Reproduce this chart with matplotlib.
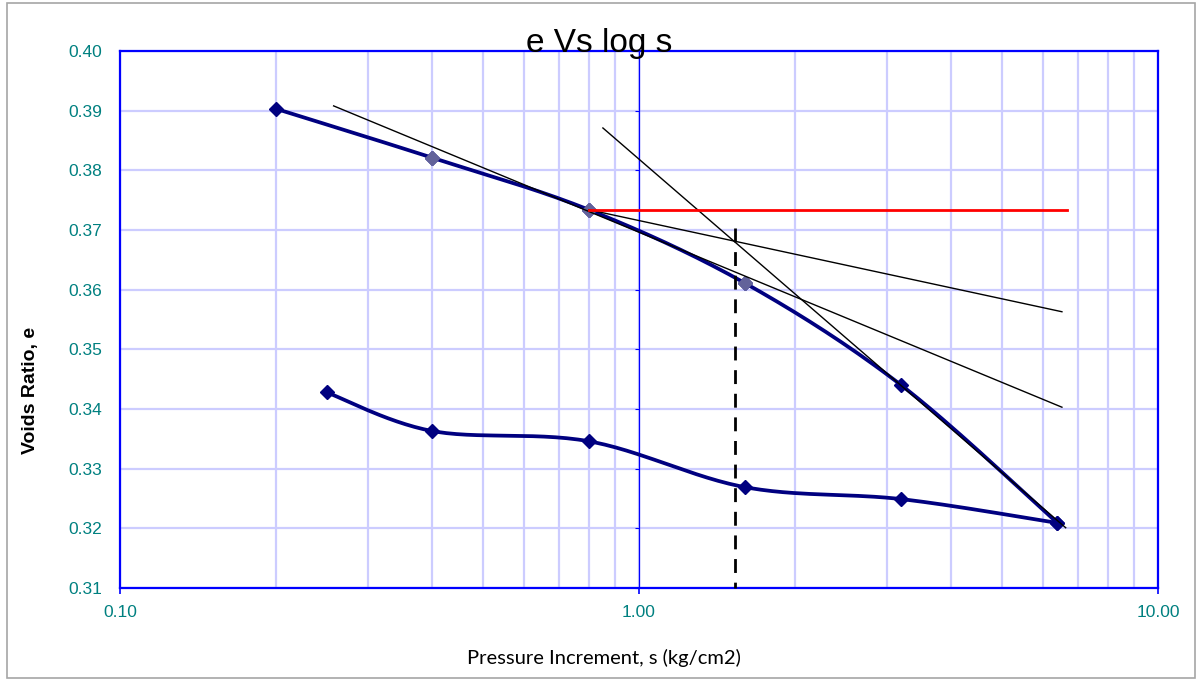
import numpy as np
import matplotlib
matplotlib.use("Agg")
import matplotlib.pyplot as plt
from matplotlib.patches import Rectangle
from matplotlib.ticker import FixedLocator, NullFormatter, FuncFormatter

# loading branch
load_s = [0.2, 0.4, 0.8, 1.6, 3.2, 6.4]
load_e = [0.3903, 0.3821, 0.3734, 0.3611, 0.3440, 0.3209]
# points highlighted on the loading branch
pick_s = [0.4, 0.8, 1.6]
pick_e = [0.3821, 0.3734, 0.3611]
# second curve
unload_s = [0.25, 0.4, 0.8, 1.6, 3.2, 6.4]
unload_e = [0.3428, 0.3363, 0.3346, 0.3269, 0.3249, 0.3209]

# construction lines (Casagrande)
tan_s, tan_e = [0.258, 6.53], [0.3908, 0.3403]
steep_s, steep_e = [0.852, 6.64], [0.3871, 0.3201]
bis_s, bis_e = [0.80, 6.53], [0.3734, 0.3563]
hor_s, hor_e = [0.80, 6.68], [0.3734, 0.3734]
pc_s, pc_e = [1.53, 1.53], [0.3703, 0.31]

y_ticks = [0.31, 0.32, 0.33, 0.34, 0.35, 0.36, 0.37, 0.38, 0.39, 0.40]

navy = "#000080"
teal = "#008080"
gridc = "#ccccff"

W, H = 1198, 681
fig = plt.figure(figsize=(W / 100, H / 100), dpi=100)
ax = fig.add_axes([120 / W, 1 - 588 / H, (1158 - 120) / W, (588 - 51) / H])
ax.set_xscale("log")
ax.set_xlim(0.1, 10)
ax.set_ylim(0.31, 0.40)


def smooth(xs, ys, n=30):
    # Catmull-Rom through the points, done in screen space so it follows the log axis
    pts = ax.transData.transform(np.column_stack([xs, ys]))
    p = np.vstack([pts[0], pts, pts[-1]])
    out = []
    for i in range(1, len(p) - 2):
        p0, p1, p2, p3 = p[i - 1], p[i], p[i + 1], p[i + 2]
        c1 = p1 + (p2 - p0) / 6
        c2 = p2 - (p3 - p1) / 6
        t = np.linspace(0, 1, n)[:, None]
        seg = ((1 - t) ** 3) * p1 + 3 * ((1 - t) ** 2) * t * c1 + 3 * (1 - t) * t ** 2 * c2 + t ** 3 * p2
        out.append(seg if i == 1 else seg[1:])
    out = np.vstack(out)
    d = ax.transData.inverted().transform(out)
    return d[:, 0], d[:, 1]


# grid
ax.xaxis.set_major_locator(FixedLocator([0.1, 1, 10]))
minors = [m * 10.0 ** k for k in (-1, 0) for m in range(2, 10)]
ax.xaxis.set_minor_locator(FixedLocator(minors))
ax.xaxis.set_minor_formatter(NullFormatter())
ax.xaxis.set_major_formatter(FuncFormatter(lambda v, p: f"{v:.2f}"))
ax.yaxis.set_major_locator(FixedLocator(y_ticks))
ax.yaxis.set_major_formatter(FuncFormatter(lambda v, p: f"{v:.2f}"))
ax.grid(True, which="both", color=gridc, lw=1.6, zorder=0)
ax.set_axisbelow(True)

# value axis crossing at 1.0
ax.axvline(1.0, color="#0000ff", lw=0.9, zorder=1)
ax.plot([1.0] * len(y_ticks), y_ticks, ls="none", marker=0, ms=3, mew=0.8,
        color="#0000ff", zorder=1, clip_on=False)

xs, ys = smooth(load_s, load_e)
ax.plot(xs, ys, color=navy, lw=2.7, zorder=3)
ax.plot(load_s, load_e, ls="none", marker="D", ms=7, color=navy, zorder=4)
ax.plot(pick_s, pick_e, ls="none", marker="D", ms=7, color="#62629a", zorder=5)

xs, ys = smooth(unload_s, unload_e)
ax.plot(xs, ys, color=navy, lw=2.7, zorder=3)
ax.plot(unload_s, unload_e, ls="none", marker="D", ms=7, color=navy, zorder=4)

ax.plot(tan_s, tan_e, color="black", lw=1.0, zorder=6)
ax.plot(steep_s, steep_e, color="black", lw=1.0, zorder=6)
ax.plot(bis_s, bis_e, color="black", lw=1.0, zorder=6)
ax.plot(hor_s, hor_e, color="#ff0000", lw=2.0, zorder=6)
ax.plot(pc_s, pc_e, color="black", lw=2.0, ls=(0, (5, 3.5)), zorder=6, clip_on=False)

for sp in ax.spines.values():
    sp.set_color("#0000ff")
    sp.set_linewidth(1.6)

ax.tick_params(axis="x", which="major", direction="out", length=4, width=1.2,
               color="#0000ff", labelcolor=teal, labelsize=12.5, pad=8)
ax.tick_params(axis="x", which="minor", length=0)
ax.tick_params(axis="y", length=0, labelcolor=teal, labelsize=12.5, pad=13)
for lab in ax.get_xticklabels() + ax.get_yticklabels():
    lab.set_family("Liberation Sans")

fig.text(599 / W, 1 - 52 / H, "e Vs log s", ha="center", va="baseline",
         fontsize=24, family="Liberation Sans", zorder=10)
fig.text(604 / W, 1 - 664 / H, "Pressure Increment, s (kg/cm2)", ha="center",
         va="baseline", fontsize=14.5, family="Lato")
fig.text(31 / W, 1 - 390 / H, "Voids Ratio, e", ha="center", va="center",
         rotation=90, fontsize=14, fontweight="bold", family="Liberation Sans")

fig.patches.append(Rectangle((7 / W, 3 / H), (1195 - 7) / W, (678 - 3) / H,
                             transform=fig.transFigure, fill=False,
                             edgecolor="#a6a6a6", lw=1.2))

fig.savefig("out.png", dpi=100)
